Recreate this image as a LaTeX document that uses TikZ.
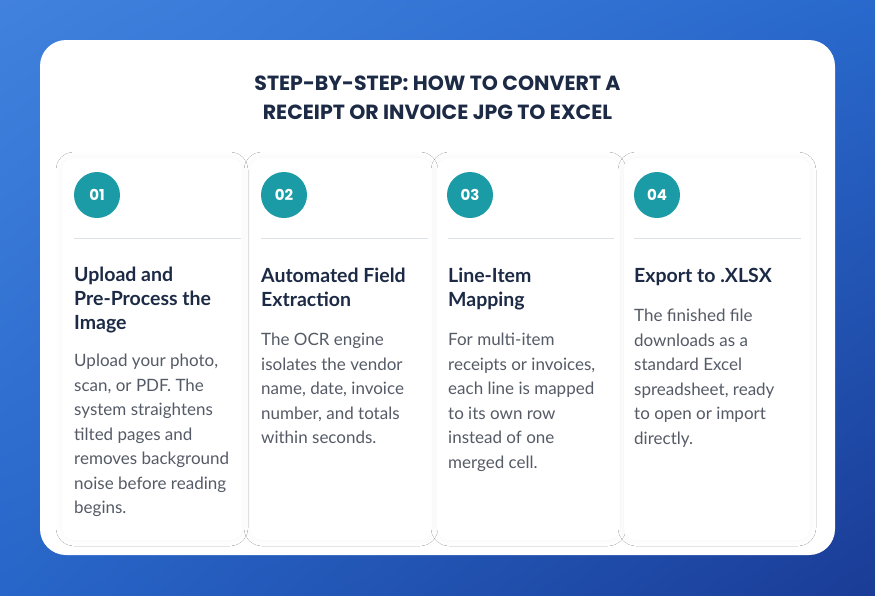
\documentclass[tikz,border=0pt]{standalone}
\usepackage{fontspec}
\setmainfont{Lato}
\newfontfamily\pop{Poppins}
\usetikzlibrary{shadows.blur,shadings}
\definecolor{navy}{HTML}{1C2A45}
\definecolor{teal1}{HTML}{1A9BA5}
\definecolor{bodyg}{HTML}{555B66}
\definecolor{bgA}{HTML}{2C74DA}
\definecolor{bgB}{HTML}{1A3C96}
\definecolor{rule}{HTML}{DDE2E6}
\tikzset{
 num/.style={circle,fill=teal1,minimum size=46pt,inner sep=0pt,text=white,font=\pop\bfseries\fontsize{15}{15}\selectfont},
 head/.style={anchor=north west,align=left,inner sep=0pt,text=navy,font=\bfseries\fontsize{19.5}{23.8}\selectfont},
 body/.style={anchor=north west,align=left,inner sep=0pt,text=bodyg,font=\fontsize{17}{24.5}\selectfont},
 ttl/.style={align=center,inner sep=0pt,text=navy,font=\pop\bfseries\fontsize{20.5}{29}\selectfont},
 panel/.style={fill=white,rounded corners=12pt,blur shadow={shadow xshift=0pt,shadow yshift=0pt,shadow opacity=4,shadow blur radius=6pt}}
}
\begin{document}
\begin{tikzpicture}[x=1pt,y=-1pt]
\useasboundingbox (0,0) rectangle (875,595);
\shade[upper left=bgA!90!white,upper right=bgA!80!bgB,lower left=bgA!75!bgB,lower right=bgB] (0,0) rectangle (875,595);
\fill[white,rounded corners=26pt] (40,40) rectangle (835,555);
\node[ttl] (title) at (437.5,98) {STEP-BY-STEP: HOW TO CONVERT A\\RECEIPT OR INVOICE JPG TO EXCEL};
\foreach \x/\w in {62/180,250/182,437/183,624/186}{
  \path[panel] (\x,158) rectangle ++(\w,382);
}
\node[num] (n1) at (97,195) {01};
\node[num] (n2) at (284,195) {02};
\node[num] (n3) at (470,195) {03};
\node[num] (n4) at (657,195) {04};
\coordinate (r1a) at (74,238); \coordinate (r1b) at (241,238);
\coordinate (r2a) at (261,238); \coordinate (r2b) at (428,238);
\coordinate (r3a) at (448,238); \coordinate (r3b) at (614,238);
\coordinate (r4a) at (634,238); \coordinate (r4b) at (801,238);
\foreach \i in {1,2,3,4}{\draw[rule,line width=1pt] (r\i a) -- (r\i b);}
\node[head] (h1) at (74,267) {Upload and\\Pre-Process the\\Image};
\node[body] (b1) at (74,354) {Upload your photo,\\scan, or PDF. The\\system straightens\\tilted pages and\\removes background\\noise before reading\\begins.};
\node[head] (h2) at (261,268) {Automated Field\\Extraction};
\node[body] (b2) at (261,333) {The OCR engine\\isolates the vendor\\name, date, invoice\\number, and totals\\within seconds.};
\node[head] (h3) at (448,268) {Line-Item\\Mapping};
\node[body] (b3) at (448,333) {For multi-item\\receipts or invoices,\\each line is mapped\\to its own row\\instead of one\\merged cell.};
\node[head] (h4) at (634,268) {Export to .XLSX};
\node[body] (b4) at (634,309) {The finished file\\downloads as a\\standard Excel\\spreadsheet, ready\\to open or import\\directly.};
\end{tikzpicture}
\end{document}
